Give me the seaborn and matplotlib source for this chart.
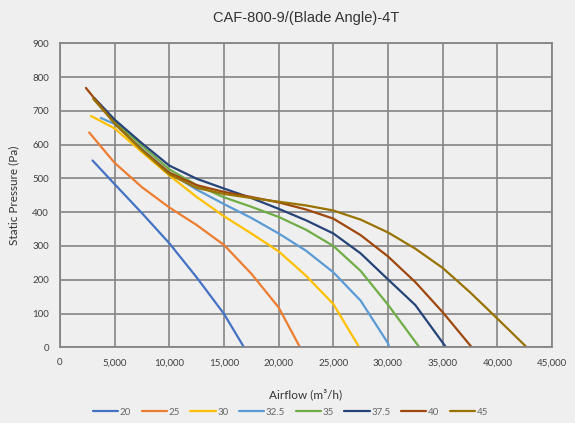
import matplotlib
matplotlib.use("Agg")
import matplotlib.pyplot as plt
import seaborn as sns
import pandas as pd
from matplotlib.ticker import FuncFormatter, MultipleLocator
from matplotlib.lines import Line2D

# Blade angles
angles = ["20", "25", "30", "32.5", "35", "37.5", "40", "45"]

# Airflow (m3/h) and static pressure (Pa)
x_20 = [2980, 5000, 7500, 10000, 12500, 15000, 16830]
y_20 = [553, 483, 397, 308, 207, 99, 0]

x_25 = [2670, 5000, 7500, 10000, 12500, 15000, 17500, 20000, 21950]
y_25 = [636, 546, 474, 414, 362, 303, 218, 118, 0]

x_30 = [2830, 5000, 7500, 10000, 12500, 15000, 17500, 20000, 22500, 25000, 27370]
y_30 = [685, 648, 578, 509, 445, 388, 337, 284, 212, 128, 0]

x_325 = [3740, 5000, 7500, 10000, 12500, 15000, 17500, 20000, 22500, 25000, 27500, 30000, 30120]
y_325 = [679, 661, 587, 517, 467, 424, 383, 337, 286, 222, 138, 12, 0]

x_35 = [3190, 5000, 7500, 10000, 12500, 15000, 17500, 20000, 22500, 25000, 27500, 30000, 32870]
y_35 = [731, 670, 597, 527, 480, 444, 416, 386, 348, 300, 226, 126, 0]

x_375 = [3140, 5000, 7500, 10000, 12500, 15000, 17500, 20000, 22500, 25000, 27500, 30000, 32500, 35310]
y_375 = [738, 674, 604, 538, 499, 470, 442, 410, 376, 337, 278, 201, 125, 0]

x_40 = [2370, 5000, 7500, 10000, 12500, 15000, 17500, 20000, 22500, 25000, 27500, 30000, 32500, 35000, 37660]
y_40 = [768, 663, 585, 517, 480, 460, 445, 429, 408, 381, 332, 269, 193, 104, 0]

x_45 = [3040, 5000, 7500, 10000, 12500, 15000, 17500, 20000, 22500, 25000, 27500, 30000, 32500, 35000, 37500, 40000, 42690]
y_45 = [736, 663, 583, 512, 472, 454, 442, 431, 420, 405, 378, 340, 292, 235, 163, 85, 0]

xs = [x_20, x_25, x_30, x_325, x_35, x_375, x_40, x_45]
ys = [y_20, y_25, y_30, y_325, y_35, y_375, y_40, y_45]

colors = ["#4472C4", "#ED7D31", "#FFC000", "#5B9BD5", "#70AD47", "#264478", "#9E480E", "#997300"]

rows = []
for a, xv, yv in zip(angles, xs, ys):
    for xx, yy in zip(xv, yv):
        rows.append({"angle": a, "airflow": xx, "pressure": yy})
df = pd.DataFrame(rows)

sns.set_theme(style="white")
plt.rcParams["font.family"] = ["Liberation Sans", "DejaVu Sans"]

bg = "#efefef"
fig = plt.figure(figsize=(5.75, 4.23), dpi=100, facecolor=bg)
ax = fig.add_axes([0.1043, 0.179, 0.8557, 0.7186])
ax.set_facecolor(bg)

sns.lineplot(data=df, x="airflow", y="pressure", hue="angle", hue_order=angles,
             palette=dict(zip(angles, colors)), sort=False, estimator=None,
             units="angle", linewidth=1.6, ax=ax, legend=False)

ax.set_xlim(0, 45000)
ax.set_ylim(0, 900)
ax.xaxis.set_major_locator(MultipleLocator(5000))
ax.yaxis.set_major_locator(MultipleLocator(100))
ax.xaxis.set_major_formatter(FuncFormatter(lambda v, p: f"{int(v):,}"))
ax.grid(True, color="#858585", linewidth=1.2)
ax.set_axisbelow(True)
for s in ax.spines.values():
    s.set_color("#858585")
    s.set_linewidth(1.3)
ax.tick_params(axis="both", length=0, labelsize=7, colors="#404040")
ax.tick_params(axis="x", pad=8)
ax.tick_params(axis="y", pad=8)

lato = ["Lato", "DejaVu Sans"]
ax.set_title("CAF-800-9/(Blade Angle)-4T", fontsize=10.5, color="#333333", pad=15)
ax.set_xlabel("Airflow (m\u00b3/h)", fontsize=8.5, color="#333333", labelpad=15, family=lato)
ax.set_ylabel("Static Pressure (Pa)", fontsize=8.5, color="#333333", labelpad=9, family=lato)
for lab in ax.get_xticklabels() + ax.get_yticklabels():
    lab.set_family(lato)

handles = [Line2D([0], [0], color=c, linewidth=1.6) for c in colors]
leg = fig.legend(handles, angles, loc="center", bbox_to_anchor=(0.505, 0.026), ncol=8,
                 frameon=False, handlelength=2.6, handletextpad=0.15,
                 columnspacing=1.1, prop={"family": lato, "size": 7})
for t in leg.get_texts():
    t.set_color("#666666")

fig.savefig("out.png", dpi=100, facecolor=bg)
